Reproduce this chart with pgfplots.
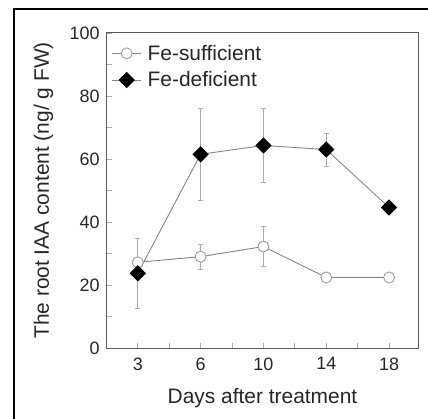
\documentclass[border=0pt]{standalone}
\usepackage{fontspec}
\setmainfont{Liberation Sans}
\usepackage{pgfplots}
\pgfplotsset{compat=1.18}
\definecolor{axgray}{HTML}{5A5A5A}
\definecolor{lngray}{HTML}{858585}
\definecolor{ebgray}{HTML}{ABABAB}
\begin{document}
\begin{tikzpicture}
\useasboundingbox (-107bp,-71bp) rectangle (321bp,348bp);
\draw[line width=2bp, black] (-93bp,-200bp) rectangle (500bp,339bp);
\begin{axis}[at={(0,0)}, anchor=south west, scale only axis,
  width=311bp, height=315bp,
  xmin=-0.49, xmax=4.46, ymin=0, ymax=100,
  xtick={0,...,4}, xticklabels={3,6,10,14,18},
  minor xtick={0.5,1.5,2.5,3.5},
  ytick={0,20,...,100}, minor ytick={10,30,...,90},
  tick align=inside, major tick length=5bp, minor tick length=5bp,
  xtick pos=bottom, ytick pos=left,
  axis line style={axgray, line width=1bp},
  tick style={ebgray, line width=0.8bp},
  /pgf/number format/assume math mode=true,
  tick label style={font=\fontsize{18}{18}\selectfont, text=black!85},
  xticklabel style={yshift=-6bp},
  yticklabel style={xshift=-4bp},
  xlabel={Days after treatment},
  ylabel={The root IAA content (ng/ g FW)},
  label style={font=\fontsize{21}{21}\selectfont, text=black!85},
  xlabel style={at={(axis description cs:0.5,-0.1746)}, anchor=base},
  ylabel style={at={(axis description cs:-0.1865,0.5)}, anchor=base},
  legend style={draw=none, fill=none, at={(axis description cs:0.005,0.975)}, anchor=north west,
    font=\fontsize{21}{21}\selectfont, row sep=6bp, text=black!85},
  legend cell align=left,
  legend image code/.code={\draw[mark repeat=2, mark phase=2] plot coordinates {(0bp,0bp) (14.5bp,0bp) (29bp,0bp)}; \path (33bp,0bp);},
  error bars/y dir=both, error bars/y explicit,
  error bars/error bar style={ebgray, line width=0.8bp},
  error bars/error mark options={rotate=90, mark size=2.5bp, ebgray, line width=0.8bp},
]
\addplot[lngray, line width=0.9bp, mark=*, mark size=5.5bp, mark options={fill=white, draw=lngray!80, line width=0.9bp}]
  coordinates {
  (0,27.2) +- (0,1.5)
  (1,29.0) +- (0,4.0)
  (2,32.2) +- (0,6.3)
  (3,22.4) +- (0,0.5)
  (4,22.4) +- (0,0.5)
  };
\addlegendentry{Fe-sufficient}
\addplot[lngray, line width=0.9bp, mark=square*, mark size=5.3bp, mark options={fill=black, draw=black, rotate=45}]
  coordinates {
  (0,23.7) +- (0,11.0)
  (1,61.5) +- (0,14.7)
  (2,64.3) +- (0,11.8)
  (3,63.0) +- (0,5.2)
  (4,44.6) +- (0,0.5)
  };
\addlegendentry{Fe-deficient}
\end{axis}
\end{tikzpicture}
\end{document}
